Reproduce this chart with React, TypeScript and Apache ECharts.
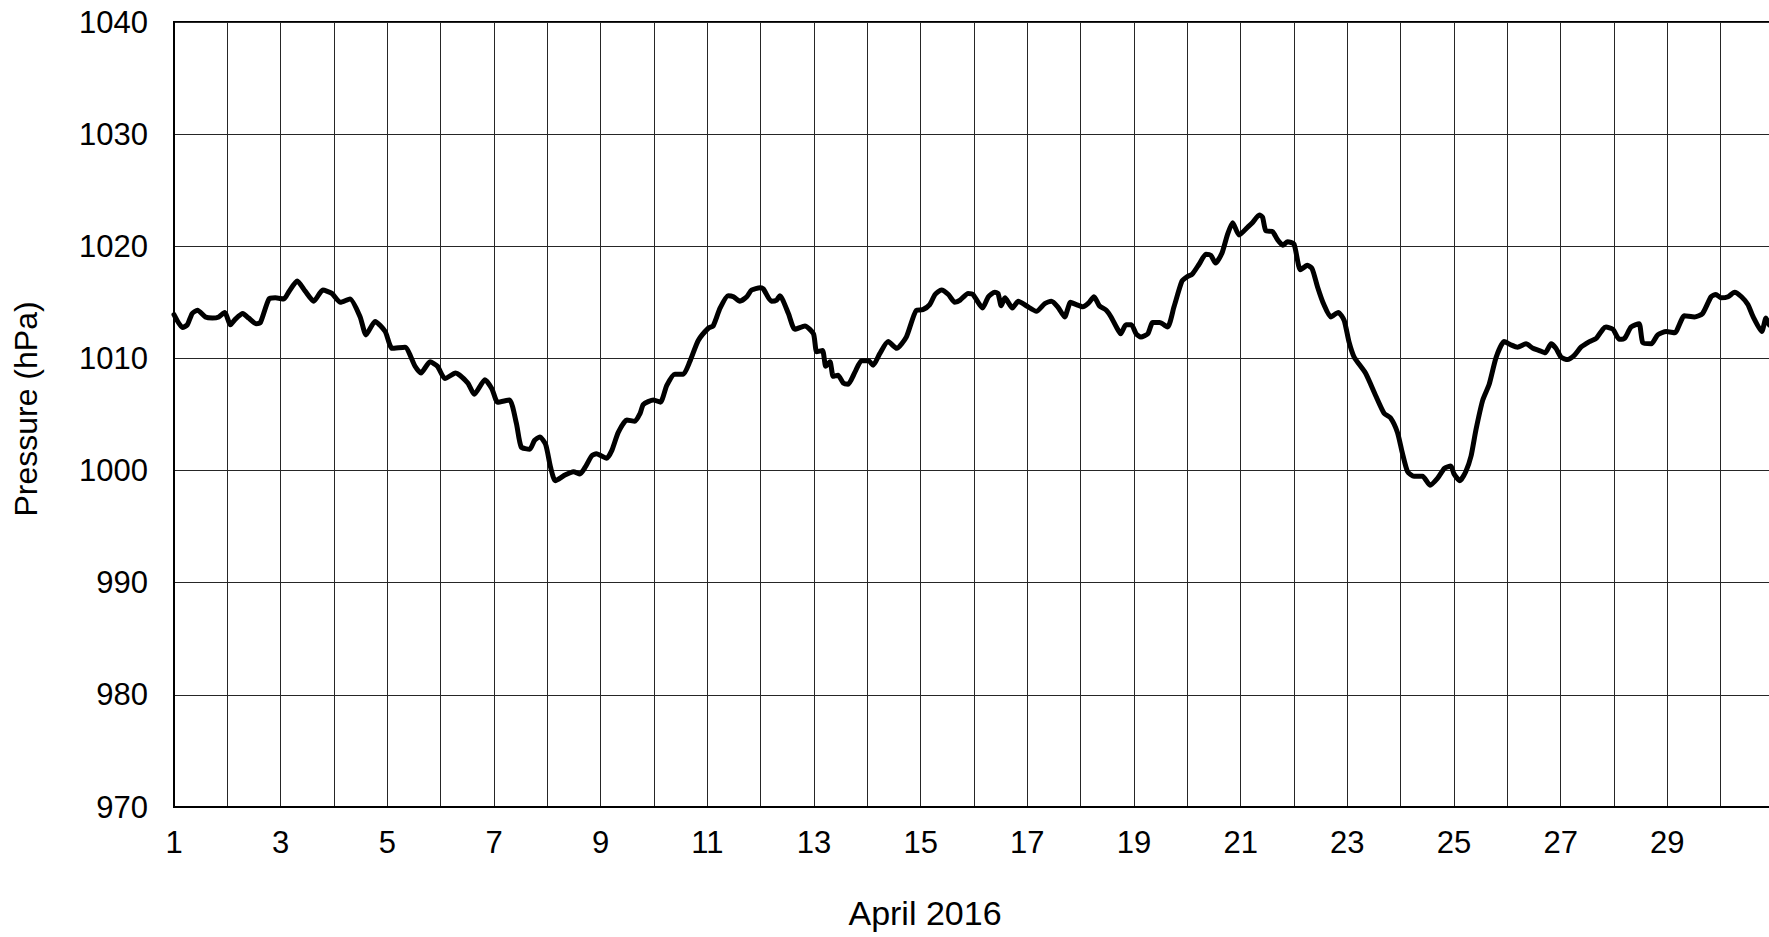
import React, { useEffect, useRef } from "react";
import * as echarts from "echarts";

// Day of April 2016 (fractional) and sea-level pressure (hPa)
const dayPositions: number[] = [
  1.00, 1.16, 1.25, 1.34, 1.44, 1.59, 1.72, 1.84, 1.95, 2.06, 2.15, 2.29, 2.40, 2.54, 2.62, 2.78, 2.90, 3.06, 3.16, 3.31,
  3.46, 3.62, 3.79, 3.96, 4.12, 4.30, 4.49, 4.60, 4.77, 4.96, 5.09, 5.33, 5.52, 5.63, 5.80, 5.94, 6.08, 6.28, 6.51, 6.63,
  6.83, 6.96, 7.07, 7.29, 7.42, 7.51, 7.67, 7.76, 7.86, 7.97, 8.06, 8.15, 8.33, 8.49, 8.61, 8.71, 8.83, 8.92, 9.11, 9.21,
  9.33, 9.49, 9.64, 9.74, 9.80, 9.99, 10.12, 10.24, 10.39, 10.55, 10.67, 10.83, 11.02, 11.11, 11.24, 11.39, 11.49, 11.61, 11.74, 11.83,
  11.99, 12.05, 12.20, 12.30, 12.36, 12.52, 12.64, 12.83, 12.99, 13.05, 13.16, 13.22, 13.30, 13.36, 13.45, 13.55, 13.64, 13.77, 13.89, 14.02,
  14.11, 14.23, 14.39, 14.55, 14.73, 14.92, 15.04, 15.17, 15.27, 15.39, 15.52, 15.64, 15.74, 15.89, 15.98, 16.16, 16.27, 16.39, 16.45, 16.51,
  16.58, 16.72, 16.83, 16.98, 17.17, 17.33, 17.45, 17.57, 17.70, 17.81, 17.92, 18.04, 18.14, 18.25, 18.35, 18.48, 18.57, 18.67, 18.75, 18.85,
  18.95, 19.04, 19.13, 19.26, 19.35, 19.48, 19.63, 19.75, 19.90, 20.00, 20.09, 20.22, 20.35, 20.44, 20.53, 20.65, 20.75, 20.85, 20.97, 21.13,
  21.22, 21.35, 21.41, 21.47, 21.60, 21.69, 21.79, 21.88, 22.00, 22.12, 22.25, 22.34, 22.44, 22.56, 22.69, 22.83, 22.94, 23.03, 23.13, 23.34,
  23.53, 23.69, 23.81, 23.94, 24.03, 24.13, 24.25, 24.41, 24.55, 24.69, 24.82, 24.94, 25.00, 25.11, 25.22, 25.32, 25.41, 25.54, 25.66, 25.79,
  25.94, 26.07, 26.19, 26.35, 26.48, 26.60, 26.71, 26.82, 26.91, 27.01, 27.13, 27.26, 27.38, 27.54, 27.67, 27.79, 27.85, 27.98, 28.10, 28.20,
  28.32, 28.47, 28.54, 28.70, 28.82, 28.98, 29.14, 29.32, 29.51, 29.66, 29.82, 29.91, 30.01, 30.14, 30.26, 30.39, 30.51, 30.61, 30.77, 30.85,
  30.91, 30.98,
];

const pressureHpa: number[] = [
  1013.9, 1012.75, 1013.0, 1014.0, 1014.3, 1013.7, 1013.6, 1013.7, 1014.1, 1013.0, 1013.5, 1014.0, 1013.6, 1013.1, 1013.2, 1015.3, 1015.4, 1015.3, 1016.0, 1016.9,
  1016.0, 1015.1, 1016.1, 1015.8, 1015.0, 1015.3, 1013.7, 1012.1, 1013.3, 1012.4, 1010.9, 1011.0, 1009.3, 1008.7, 1009.7, 1009.3, 1008.2, 1008.7, 1007.8, 1006.8,
  1008.1, 1007.3, 1006.1, 1006.3, 1004.2, 1002.1, 1001.9, 1002.7, 1003.0, 1002.3, 1000.3, 999.1, 999.6, 999.9, 999.7, 1000.3, 1001.3, 1001.5, 1001.1, 1001.8,
  1003.4, 1004.5, 1004.4, 1005.1, 1005.9, 1006.3, 1006.1, 1007.6, 1008.6, 1008.6, 1009.7, 1011.6, 1012.7, 1012.9, 1014.5, 1015.6, 1015.5, 1015.1, 1015.5, 1016.1,
  1016.3, 1016.2, 1015.1, 1015.2, 1015.6, 1014.0, 1012.6, 1012.9, 1012.2, 1010.6, 1010.7, 1009.3, 1009.7, 1008.4, 1008.5, 1007.8, 1007.7, 1008.8, 1009.8, 1009.8,
  1009.4, 1010.4, 1011.5, 1010.9, 1011.9, 1014.3, 1014.35, 1014.8, 1015.7, 1016.1, 1015.7, 1015.0, 1015.2, 1015.8, 1015.7, 1014.5, 1015.5, 1015.9, 1015.8, 1014.7,
  1015.4, 1014.5, 1015.1, 1014.7, 1014.2, 1014.9, 1015.1, 1014.6, 1013.7, 1015.0, 1014.8, 1014.6, 1014.9, 1015.5, 1014.7, 1014.3, 1013.7, 1012.8, 1012.2, 1013.0,
  1013.0, 1012.2, 1011.9, 1012.2, 1013.2, 1013.2, 1012.8, 1014.6, 1016.9, 1017.3, 1017.5, 1018.4, 1019.3, 1019.2, 1018.5, 1019.4, 1021.0, 1022.1, 1021.0, 1021.7,
  1022.1, 1022.8, 1022.6, 1021.4, 1021.3, 1020.6, 1020.1, 1020.4, 1020.2, 1017.9, 1018.3, 1018.0, 1016.4, 1014.8, 1013.7, 1014.1, 1013.4, 1011.5, 1010.1, 1008.7,
  1006.7, 1005.1, 1004.7, 1003.4, 1001.6, 999.9, 999.5, 999.5, 998.7, 999.3, 1000.2, 1000.4, 999.7, 999.1, 999.9, 1001.3, 1003.6, 1006.3, 1007.7, 1010.1,
  1011.5, 1011.2, 1011.0, 1011.3, 1010.9, 1010.7, 1010.5, 1011.3, 1010.9, 1010.1, 1009.9, 1010.3, 1011.0, 1011.5, 1011.8, 1012.6, 1012.8, 1012.6, 1011.7, 1011.8,
  1012.8, 1013.1, 1011.4, 1011.3, 1012.1, 1012.4, 1012.3, 1013.8, 1013.7, 1014.0, 1015.5, 1015.7, 1015.4, 1015.5, 1015.9, 1015.5, 1014.8, 1013.7, 1012.4, 1013.6,
  1013.0, 1012.8,
];

const xAxisTitle = "April 2016";
const yAxisTitle = "Pressure (hPa)";
const xMin = 1;
const xMax = 31;
const yMin = 970;
const yMax = 1040;
const yStep = 10;

const FONT = '"Liberation Sans", Arial, Helvetica, sans-serif';

export default function App() {
  const ref = useRef<HTMLDivElement>(null);

  useEffect(() => {
    if (!ref.current) return;
    const chart = echarts.init(ref.current, undefined, { renderer: "svg" });
    const data = dayPositions.map((d, i) => [d, pressureHpa[i]]);
    chart.setOption({
      animation: false,
      backgroundColor: "#ffffff",
      grid: {
        left: 174,
        top: 22,
        width: 1600,
        height: 785,
        show: true,
        borderColor: "#000000",
        borderWidth: 2,
        backgroundColor: "transparent",
      },
      xAxis: {
        type: "value",
        min: xMin,
        max: xMax,
        interval: 1,
        axisLine: { show: true, lineStyle: { color: "#000000", width: 2 } },
        axisTick: { show: false },
        splitLine: { show: true, lineStyle: { color: "#262626", width: 1 } },
        axisLabel: {
          margin: 20,
          fontSize: 31,
          fontFamily: FONT,
          color: "#000000",
          formatter: (v: number) => (v % 2 === 1 && v < xMax ? String(v) : ""),
        },
      },
      yAxis: {
        type: "value",
        min: yMin,
        max: yMax,
        interval: yStep,
        axisLine: { show: true, lineStyle: { color: "#000000", width: 2 } },
        axisTick: { show: false },
        splitLine: { show: true, lineStyle: { color: "#262626", width: 1 } },
        axisLabel: {
          margin: 26,
          fontSize: 31,
          fontFamily: FONT,
          color: "#000000",
          formatter: (v: number) => String(v),
        },
      },
      series: [
        {
          type: "line",
          data,
          showSymbol: false,
          smooth: 0.2,
          clip: true,
          lineStyle: { color: "#000000", width: 5, cap: "round", join: "round" },
        },
      ],
      graphic: [
        {
          type: "text",
          x: 925,
          y: 913,
          style: {
            text: xAxisTitle,
            fontSize: 34,
            fontFamily: FONT,
            fill: "#000000",
            textAlign: "center",
            textVerticalAlign: "middle",
          },
        },
        {
          type: "text",
          x: 26,
          y: 409,
          rotation: Math.PI / 2,
          style: {
            text: yAxisTitle,
            fontSize: 32,
            fontFamily: FONT,
            fill: "#000000",
            textAlign: "center",
            textVerticalAlign: "middle",
          },
        },
      ],
    });
    return () => chart.dispose();
  }, []);

  return (
    <div
      style={{
        position: "fixed",
        left: 0,
        top: 0,
        width: 1769,
        height: 937,
        overflow: "hidden",
        background: "#ffffff",
      }}
    >
      <div ref={ref} style={{ width: 1800, height: 937 }} />
    </div>
  );
}
